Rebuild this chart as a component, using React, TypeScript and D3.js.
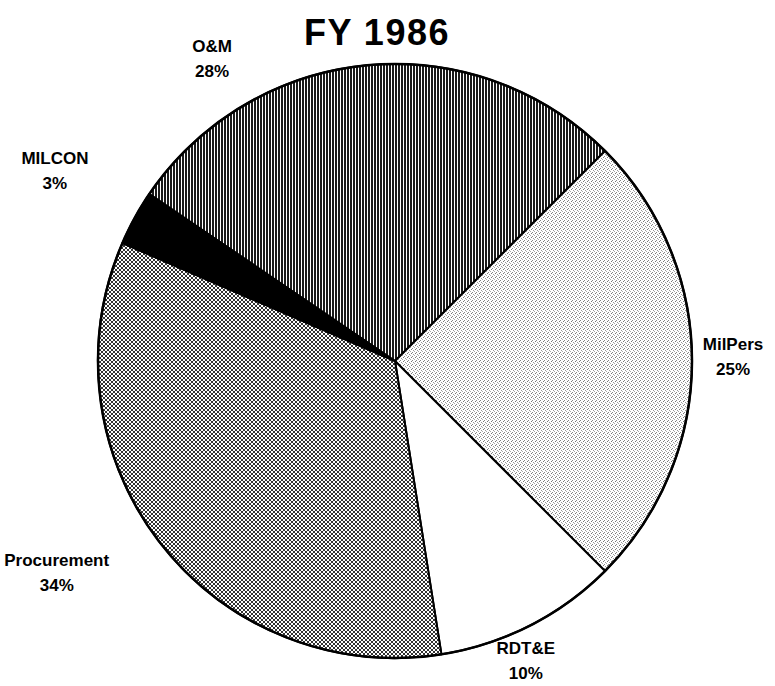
import React from "react";
import * as d3 from "d3";

// budget shares, FY 1986 (percent)
const categories = ["O&M", "MilPers", "RDT&E", "Procurement", "MILCON"];
const shares = [28, 25, 10, 34, 3];
const fills = ["url(#stripes)", "url(#stipple)", "#ffffff", "url(#dots)", "#000000"];

// where each label sits around the pie (degrees clockwise from north, distance from centre)
const labelAngles = [-31.6, 90.2, 156.8, 237.3, -61.5];
const labelRadii = [349, 338, 332, 402, 387];

const width = 775,
  height = 686,
  cx = 395,
  cy = 361,
  radius = 297;

interface ISlice {
  name: string;
  value: number;
}

export default function App(): JSX.Element {
  const data: ISlice[] = categories.map((name, i) => ({ name, value: shares[i] }));

  const total = d3.sum(shares);
  // MilPers boundary sits at 45deg, so start O&M before it
  const start = (45 / 180) * Math.PI - (shares[0] / total) * 2 * Math.PI;

  const pie = d3
    .pie<ISlice>()
    .sort(null)
    .value((d) => d.value)
    .startAngle(start)
    .endAngle(start + 2 * Math.PI);

  const arc = d3.arc<d3.PieArcDatum<ISlice>>().innerRadius(0).outerRadius(radius);
  const arcs = pie(data);

  return (
    <svg
      width={width}
      height={height}
      style={{ position: "absolute", top: 0, left: 0, background: "#fff" }}
      fontFamily="'Liberation Sans', Arial, sans-serif"
    >
      <defs>
        <pattern id="stripes" width={3} height={4} patternUnits="userSpaceOnUse">
          <rect width={3} height={4} fill="#fff" />
          <rect x={0} width={2} height={4} fill="#1a1a1a" />
        </pattern>
        <pattern id="stipple" width={4} height={4} patternUnits="userSpaceOnUse">
          <rect width={4} height={4} fill="#fff" />
          <rect x={0} y={0} width={1} height={1} fill="#777" />
          <rect x={2} y={1} width={1} height={1} fill="#999" />
          <rect x={1} y={3} width={1} height={1} fill="#888" />
          <rect x={3} y={2} width={1} height={1} fill="#aaa" />
        </pattern>
        <pattern id="dots" width={4} height={4} patternUnits="userSpaceOnUse">
          <rect width={4} height={4} fill="#fff" />
          <rect x={0} y={0} width={2} height={2} fill="#333" />
          <rect x={2} y={2} width={2} height={2} fill="#333" />
        </pattern>
      </defs>

      <text x={377} y={45} textAnchor="middle" fontSize={36} fontWeight="bold" letterSpacing={1.5}>
        FY 1986
      </text>

      <g transform={`translate(${cx},${cy})`}>
        {arcs.map((a, i) => (
          <path
            key={a.data.name}
            d={arc(a) as string}
            fill={fills[i]}
            stroke="#000"
            strokeWidth={2}
            strokeLinejoin="round"
          />
        ))}
        <circle r={radius} fill="none" stroke="#000" strokeWidth={2.5} />

        {arcs.map((a, i) => {
          const [lx, ly] = d3.pointRadial((labelAngles[i] * Math.PI) / 180, labelRadii[i]);
          return (
            <text
              key={"l" + a.data.name}
              x={lx}
              textAnchor="middle"
              fontSize={17}
              fontWeight="bold"
            >
              <tspan x={lx} y={ly - 12}>
                {a.data.name}
              </tspan>
              <tspan x={lx} y={ly + 13}>
                {a.data.value}%
              </tspan>
            </text>
          );
        })}
      </g>
    </svg>
  );
}
